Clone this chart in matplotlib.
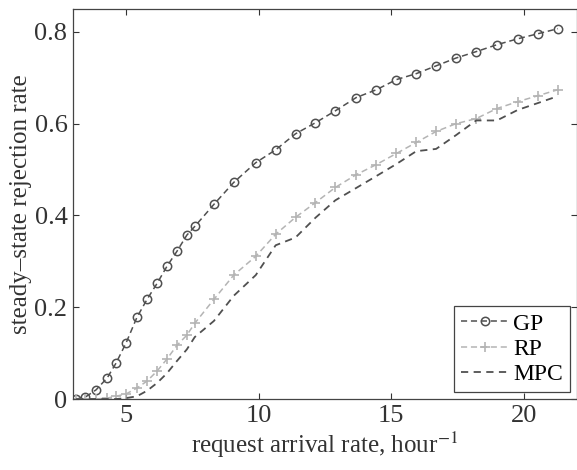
import matplotlib
matplotlib.use("Agg")
import matplotlib.pyplot as plt

plt.rcParams['font.family'] = ['Liberation Serif', 'DejaVu Serif']
plt.rcParams['mathtext.fontset'] = 'stix'

# arrival rate (per hour)
rate = [3.12, 3.46, 3.87, 4.29, 4.62, 5.0, 5.41, 5.79, 6.17, 6.54, 6.92, 7.29, 7.59,
        8.31, 9.06, 9.89, 10.64, 11.39, 12.14, 12.89, 13.68, 14.44, 15.19, 15.94,
        16.69, 17.44, 18.2, 18.98, 19.77, 20.53, 21.28]

gp = [0.0, 0.004, 0.02, 0.046, 0.078, 0.122, 0.178, 0.217, 0.252, 0.289, 0.322, 0.357, 0.376,
      0.424, 0.472, 0.515, 0.543, 0.578, 0.602, 0.628, 0.657, 0.674, 0.696, 0.709,
      0.726, 0.743, 0.757, 0.772, 0.785, 0.796, 0.807]

rp = [0.0, 0.0, 0.0, 0.002, 0.006, 0.011, 0.024, 0.039, 0.061, 0.087, 0.117, 0.139, 0.165,
      0.217, 0.27, 0.311, 0.359, 0.396, 0.428, 0.461, 0.489, 0.511, 0.535, 0.559,
      0.583, 0.6, 0.611, 0.633, 0.648, 0.661, 0.674]

mpc = [0.0, 0.0, 0.0, 0.0, 0.0, 0.002, 0.006, 0.018, 0.035, 0.056, 0.083, 0.108, 0.135,
       0.17, 0.225, 0.27, 0.335, 0.352, 0.395, 0.433, 0.46, 0.486, 0.512, 0.54,
       0.545, 0.575, 0.607, 0.607, 0.63, 0.645, 0.66]

fig = plt.figure(figsize=(5.77, 4.70), dpi=100)
ax = fig.add_axes([0.1265, 0.151, 0.8735, 0.83])

ax.plot(rate, gp, ls=(0, (4, 2.5)), color='#505050', lw=1.1, marker='o', ms=6,
        mfc='none', mec='#505050', mew=1.1, label='GP')
ax.plot(rate, rp, ls=(0, (4, 2.5)), color='#b4b4b4', lw=1.1, marker='+', ms=7,
        mew=1.2, label='RP')
ax.plot(rate, mpc, ls=(0, (4, 3)), color='#505050', lw=1.3, label='MPC')

ax.set_xlim(3, 22)
ax.set_ylim(0, 0.85)
ax.set_xticks([5, 10, 15, 20])
ax.set_yticks([0, 0.2, 0.4, 0.6, 0.8])
ax.set_yticklabels(['0', '0.2', '0.4', '0.6', '0.8'])
ax.tick_params(direction='in', top=True, right=True, labelsize=19, length=4,
               width=0.8, colors='#333333', pad=4)
for s in ax.spines.values():
    s.set_color('#444444')
    s.set_linewidth(0.9)

ax.set_xlabel('request arrival rate, hour$^{-1}$', fontsize=18, color='#333333', labelpad=2)
ax.set_ylabel('steady\u2013state rejection rate', fontsize=18, color='#333333', labelpad=2)

leg = ax.legend(loc='lower right', fontsize=17, handlelength=2.0, handletextpad=0.2,
                borderpad=0.3, labelspacing=0.15, fancybox=False, framealpha=1,
                borderaxespad=0.3)
leg.get_frame().set_edgecolor('#444444')
leg.get_frame().set_linewidth(0.9)

fig.savefig('out.png', dpi=100)
